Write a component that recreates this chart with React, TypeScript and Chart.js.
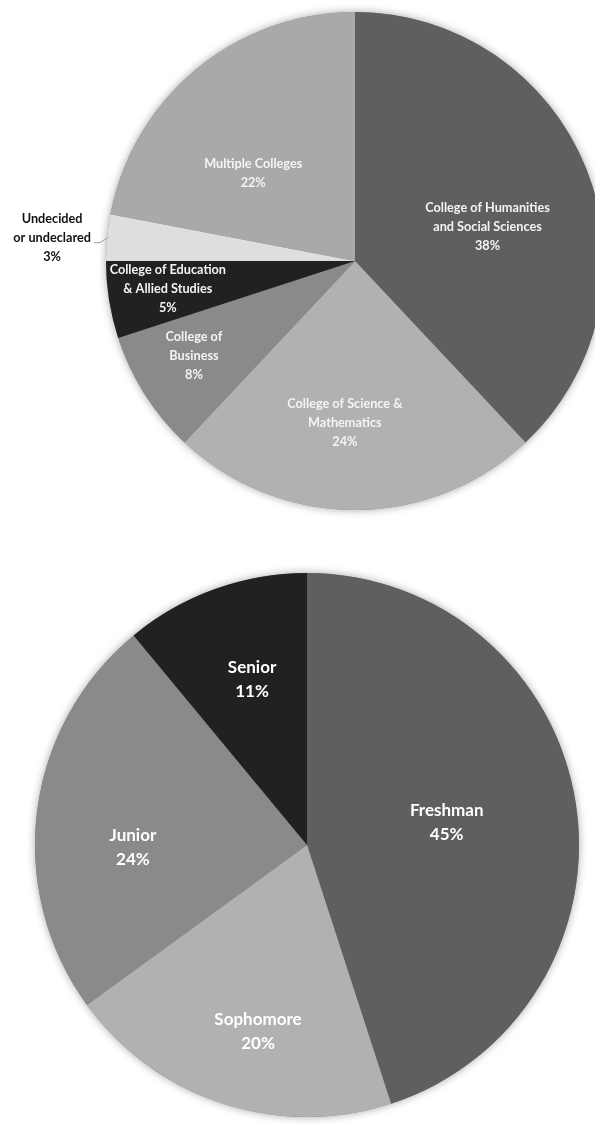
import React, { useEffect, useRef } from "react";
import { Chart, registerables } from "chart.js";
Chart.register(...registerables);

// ---- Data: college distribution (top pie) ----
const collegeCategories: string[][] = [
  ["College of Humanities", "and Social Sciences"],
  ["College of Science &", "Mathematics"],
  ["College of", "Business"],
  ["College of Education", "& Allied Studies"],
  ["Undecided", "or undeclared"],
  ["Multiple Colleges"],
];
const collegeValues = [38, 24, 8, 5, 3, 22];
const collegeColors = ["#5f5f5f", "#b1b1b1", "#8a8a8a", "#212121", "#dedede", "#a9a9a9"];

// ---- Data: class standing (bottom pie) ----
const classCategories: string[][] = [["Freshman"], ["Sophomore"], ["Junior"], ["Senior"]];
const classValues = [45, 20, 24, 11];
const classColors = ["#5f5f5f", "#b1b1b1", "#8a8a8a", "#212121"];

// ---- Label placement (radial fraction of radius, angle shift in degrees) ----
const collegeLabelRadius = [0.55, 0.65, 0.75, 0.76, 1.22, 0.54];
const collegeLabelShift = [7, 3.6, 2, 0.5, -1, -9.6];
const collegeLabelColor = ["#f4f4f4", "#f4f4f4", "#f4f4f4", "#f4f4f4", "#111111", "#f4f4f4"];
const classLabelRadius = [0.52, 0.71, 0.64, 0.64];
const classLabelShift = [0, -3.3, -8, 1.4];
const classLabelColor = ["#ffffff", "#ffffff", "#ffffff", "#ffffff"];

type LabelCfg = {
  lines: string[][];
  radius: number[];
  shift: number[];
  colors: string[];
  fontSize: number;
  lineHeight: number;
};

function makePlugins(cfg: LabelCfg) {
  return [
    {
      id: "pieShadow",
      beforeDatasetsDraw(chart: any) {
        const meta = chart.getDatasetMeta(0);
        const arc = meta.data[0];
        if (!arc) return;
        const { x, y, outerRadius } = arc.getProps(["x", "y", "outerRadius"], true);
        const ctx = chart.ctx;
        ctx.save();
        ctx.shadowColor = "rgba(0,0,0,0.35)";
        ctx.shadowBlur = 9;
        ctx.beginPath();
        ctx.arc(x, y, outerRadius, 0, Math.PI * 2);
        ctx.fillStyle = "#888888";
        ctx.fill();
        ctx.restore();
      },
    },
    {
      id: "sliceLabels",
      afterDatasetsDraw(chart: any) {
        const ctx = chart.ctx;
        const meta = chart.getDatasetMeta(0);
        const data = chart.data.datasets[0].data as number[];
        const total = data.reduce((a, b) => a + b, 0);
        ctx.save();
        ctx.font = `bold ${cfg.fontSize}px Lato, "Open Sans", sans-serif`;
        ctx.textAlign = "center";
        ctx.textBaseline = "middle";
        meta.data.forEach((arc: any, i: number) => {
          const p = arc.getProps(["x", "y", "startAngle", "endAngle", "outerRadius"], true);
          const mid = (p.startAngle + p.endAngle) / 2;
          const ang = mid + (cfg.shift[i] * Math.PI) / 180;
          const r = p.outerRadius * cfg.radius[i];
          const cx = p.x + Math.cos(ang) * r;
          const cy = p.y + Math.sin(ang) * r;
          const lines = [...cfg.lines[i], Math.round((data[i] / total) * 100) + "%"];
          const h = lines.length * cfg.lineHeight;
          const y0 = cy - h / 2 + cfg.lineHeight / 2;
          ctx.fillStyle = cfg.colors[i];
          lines.forEach((t, k) => ctx.fillText(t, cx, y0 + k * cfg.lineHeight));
          if (cfg.radius[i] > 1) {
            // leader line to pie edge
            const w = ctx.measureText(lines[1] || lines[0]).width;
            const ly = y0 + cfg.lineHeight + 5;
            const lx = cx + w / 2 + 3;
            const ex = p.x + Math.cos(mid) * p.outerRadius;
            const ey = p.y + Math.sin(mid) * p.outerRadius;
            ctx.strokeStyle = "#9a9a9a";
            ctx.lineWidth = 1;
            ctx.beginPath();
            ctx.moveTo(lx, ly);
            ctx.lineTo(lx + 6, ly);
            ctx.lineTo(ex + 1, ey);
            ctx.stroke();
          }
        });
        ctx.restore();
      },
    },
  ];
}

function PieCanvas(props: {
  width: number;
  height: number;
  top: number;
  padding: number;
  values: number[];
  colors: string[];
  labelCfg: LabelCfg;
}) {
  const ref = useRef<HTMLCanvasElement | null>(null);
  useEffect(() => {
    if (!ref.current) return;
    const chart = new Chart(ref.current, {
      type: "pie",
      data: {
        labels: props.labelCfg.lines.map((l) => l.join(" ")),
        datasets: [
          {
            data: props.values,
            backgroundColor: props.colors,
            borderWidth: 0,
          },
        ],
      },
      options: {
        responsive: false,
        animation: false,
        devicePixelRatio: 1,
        layout: { padding: props.padding },
        plugins: {
          legend: { display: false },
          tooltip: { enabled: false },
          title: { display: false },
        },
      },
      plugins: makePlugins(props.labelCfg) as any,
    });
    return () => chart.destroy();
  }, []);
  return (
    <canvas
      ref={ref}
      width={props.width}
      height={props.height}
      style={{
        position: "absolute",
        left: 0,
        top: props.top,
        width: props.width,
        height: props.height,
      }}
    />
  );
}

export default function App() {
  return (
    <div
      style={{
        position: "absolute",
        left: 0,
        top: 0,
        width: 595,
        height: 1124,
        overflow: "hidden",
        background: "#ffffff",
      }}
    >
      <PieCanvas
        width={710}
        height={522}
        top={0}
        padding={12}
        values={collegeValues}
        colors={collegeColors}
        labelCfg={{
          lines: collegeCategories,
          radius: collegeLabelRadius,
          shift: collegeLabelShift,
          colors: collegeLabelColor,
          fontSize: 12.7,
          lineHeight: 19,
        }}
      />
      <PieCanvas
        width={614}
        height={560}
        top={565}
        padding={8}
        values={classValues}
        colors={classColors}
        labelCfg={{
          lines: classCategories,
          radius: classLabelRadius,
          shift: classLabelShift,
          colors: classLabelColor,
          fontSize: 17,
          lineHeight: 24,
        }}
      />
    </div>
  );
}
